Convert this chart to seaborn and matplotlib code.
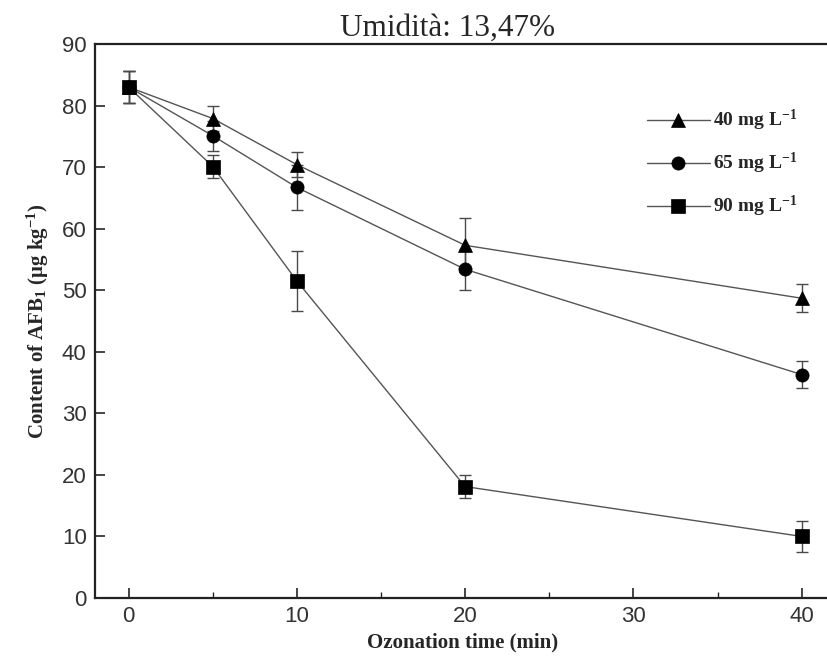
import pandas as pd
import matplotlib
matplotlib.use("Agg")
import matplotlib.pyplot as plt
from matplotlib.ticker import MultipleLocator
import seaborn as sns

# data
time_min = [0, 5, 10, 20, 40]
doses = [r"40 mg L$^{-1}$", r"65 mg L$^{-1}$", r"90 mg L$^{-1}$"]
afb_40 = [83.0, 77.9, 70.4, 57.3, 48.7]
afb_65 = [83.0, 75.1, 66.7, 53.4, 36.3]
afb_90 = [83.0, 70.1, 51.5, 18.1, 10.0]
err_40 = [2.6, 2.0, 2.0, 4.4, 2.3]
err_65 = [2.6, 2.4, 3.7, 3.3, 2.2]
err_90 = [2.6, 1.8, 4.8, 1.8, 2.5]

sns.set_style("ticks")
plt.rcParams["font.family"] = ["Liberation Serif", "DejaVu Serif"]
plt.rcParams["mathtext.fontset"] = "custom"
plt.rcParams["mathtext.rm"] = "Liberation Serif:bold"
plt.rcParams["mathtext.it"] = "Liberation Serif:bold"
plt.rcParams["mathtext.bf"] = "Liberation Serif:bold"
plt.rcParams["mathtext.default"] = "rm"

# long table for seaborn
series = [afb_40, afb_65, afb_90]
errors = [err_40, err_65, err_90]
rows = []
for dose, vals, errs in zip(doses, series, errors):
    for t, v, e in zip(time_min, vals, errs):
        rows.append({"time": t, "afb": v, "err": e, "dose": dose})
df = pd.DataFrame(rows)

fig = plt.figure(figsize=(8.28, 6.62), dpi=100)
ax = fig.add_axes([0.1147, 0.0967, 0.888, 0.8368])

# error bars first so markers sit on top
for dose in doses:
    sub = df[df["dose"] == dose]
    ax.errorbar(sub["time"], sub["afb"], yerr=sub["err"], fmt="none",
                ecolor="#4a4a4a", elinewidth=1.0, capsize=4.5, capthick=1.0, zorder=2)

sns.lineplot(data=df, x="time", y="afb", style="dose", style_order=doses,
             markers={doses[0]: "^", doses[1]: "o", doses[2]: "s"},
             dashes=False, color="#555555", linewidth=1.0, markersize=9.5,
             markerfacecolor="black", markeredgecolor="black",
             markeredgewidth=0.5, ax=ax, zorder=3)

ax.set_xlim(-2, 41.7)
ax.set_ylim(0, 90)
ax.xaxis.set_major_locator(MultipleLocator(10))
ax.xaxis.set_minor_locator(MultipleLocator(5))
ax.yaxis.set_major_locator(MultipleLocator(10))
ax.tick_params(which="major", direction="in", length=7, width=1.2, labelsize=16,
               labelcolor="#333333", pad=6)
ax.tick_params(which="minor", direction="in", length=4, width=1.0)
for lab in ax.get_xticklabels() + ax.get_yticklabels():
    lab.set_family(["Liberation Sans", "DejaVu Sans"])
for sp in ax.spines.values():
    sp.set_linewidth(1.6)
    sp.set_color("#222222")
ax.spines["right"].set_visible(False)

ax.set_xlabel("Ozonation time (min)", fontsize=15, fontweight="bold", labelpad=4)
ax.set_ylabel(r"Content of AFB$_1$ (μg kg$^{-1}$)", fontsize=15, fontweight="bold", labelpad=8)
ax.set_title("Umidità: 13,47%", fontsize=22.5, pad=6, x=0.479)

handles, labels = ax.get_legend_handles_labels()
leg = ax.legend(handles, labels, loc="upper left", bbox_to_anchor=(0.738, 0.902),
                frameon=False, handlelength=3.2, handletextpad=0.2,
                labelspacing=0.92, borderpad=0,
                prop={"family": "Liberation Serif", "weight": "bold", "size": 14})
for h in leg.legend_handles:
    h.set_color("#555555")
    h.set_markerfacecolor("black")
    h.set_markeredgecolor("black")

fig.savefig("out.png", dpi=100)
